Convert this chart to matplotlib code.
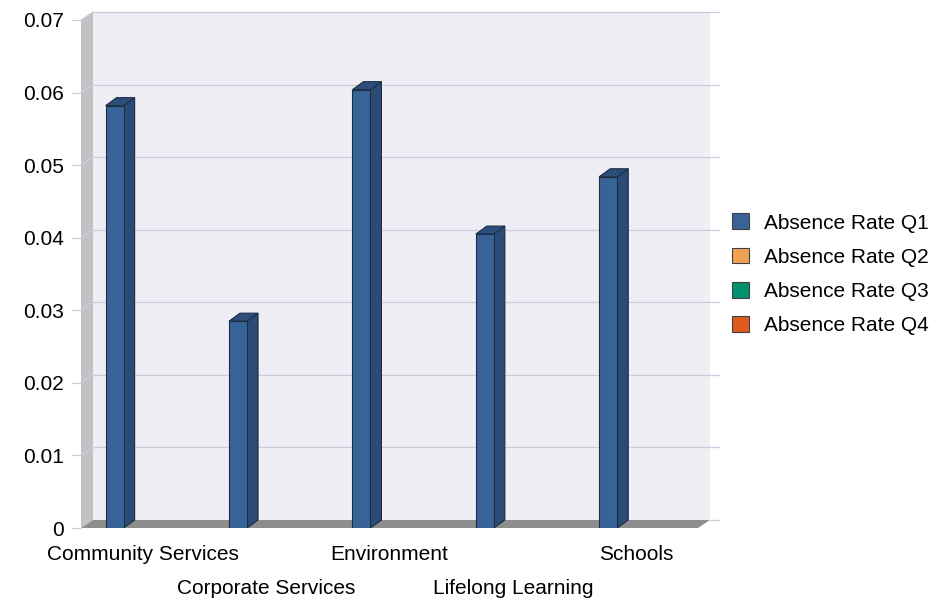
import numpy as np
import matplotlib
matplotlib.use('Agg')
import matplotlib.pyplot as plt
from matplotlib.patches import Polygon, Patch

plt.rcParams['font.family'] = ['Liberation Sans', 'DejaVu Sans']

categories = ['Community Services', 'Corporate Services', 'Environment',
              'Lifelong Learning', 'Schools']
series_names = ['Absence Rate Q1', 'Absence Rate Q2', 'Absence Rate Q3', 'Absence Rate Q4']
q1 = [0.0582, 0.0285, 0.0604, 0.0405, 0.0484]
q2 = [0, 0, 0, 0, 0]
q3 = [0, 0, 0, 0, 0]
q4 = [0, 0, 0, 0, 0]
yticks = [0, 0.01, 0.02, 0.03, 0.04, 0.05, 0.06, 0.07]

front_colors = ['#386399', '#f0a252', '#009270', '#e05a1e']
side_colors = ['#2b4b76', '#c07d3a', '#006e55', '#a84416']
top_colors = ['#2d4d7a', '#d18c44', '#007b5f', '#b94a18']
edge_col = '#1c2c44'
grid_col = '#cbcbdd'

W, H = 950, 602
fig = plt.figure(figsize=(W / 100, H / 100), dpi=100)
# front plane of the plot in pixels
x0, x1 = 81, 698
y0, y1 = 528, 20
ax = fig.add_axes([x0 / W, 1 - y0 / H, (x1 - x0) / W, (y0 - y1) / H])
ax.set_xlim(-0.5, 4.5)
ax.set_ylim(0, 0.07)
for s in ax.spines.values():
    s.set_visible(False)
ax.patch.set_visible(False)

px_x = (x1 - x0) / 5.0          # pixels per category
px_y = (y0 - y1) / 0.07         # pixels per unit value
DX, DY = 12 / px_x, 8 / px_y     # wall depth
BDX, BDY = 11 / px_x, 8 / px_y   # bar depth

# back wall, side wall, floor
ax.add_patch(Polygon([(-0.5 + DX, DY), (4.5 + DX, DY), (4.5 + DX, 0.07 + DY),
                      (-0.5 + DX, 0.07 + DY)], closed=True, fc='#efeef5', ec='none',
                     zorder=0, clip_on=False))
ax.add_patch(Polygon([(-0.5, 0), (-0.5 + DX, DY), (-0.5 + DX, 0.07 + DY), (-0.5, 0.07)],
                     closed=True, fc='#c2c2c4', ec='none', zorder=0, clip_on=False))
for v in yticks[1:]:
    ax.plot([-0.5 + DX, 4.5 + DX + 9 / px_x], [v + DY, v + DY], color=grid_col, lw=0.9,
            zorder=1, clip_on=False)
    ax.plot([-0.5, -0.5 + DX], [v, v + DY], color=grid_col, lw=0.9, zorder=1, clip_on=False)
ax.plot([4.5 + DX, 4.5 + DX + 9 / px_x], [DY, DY], color=grid_col, lw=0.9, zorder=1,
        clip_on=False)
ax.add_patch(Polygon([(-0.5, 0), (4.5, 0), (4.5 + DX, DY), (-0.5 + DX, DY)], closed=True,
                     fc='#8d8d8d', ec='none', zorder=2, clip_on=False))

# bars
x = np.arange(len(categories))
bw = 18 / px_x
step = 0.157
all_series = [q1, q2, q3, q4]
for k, vals in enumerate(all_series):
    xs = x + (k - 1.5) * step - bw / 2 + 1 / px_x
    for xl, v in zip(xs, vals):
        if v <= 0:
            continue
        ax.bar(xl, v, bw, align='edge', color=front_colors[k], edgecolor=edge_col,
               linewidth=0.8, zorder=5)
        ax.add_patch(Polygon([(xl + bw, 0), (xl + bw + BDX, BDY), (xl + bw + BDX, v + BDY),
                              (xl + bw, v)], closed=True, fc=side_colors[k], ec=edge_col,
                             lw=0.8, zorder=4))
        ax.add_patch(Polygon([(xl, v), (xl + bw, v), (xl + bw + BDX, v + BDY),
                              (xl + BDX, v + BDY)], closed=True, fc=top_colors[k],
                             ec=edge_col, lw=0.8, zorder=4))

ax.set_yticks(yticks)
ax.set_yticklabels(['0' if v == 0 else '%.2f' % v for v in yticks])
ax.tick_params(axis='y', length=6.5, width=0.9, color=grid_col, pad=5.8, labelsize=15)
ax.set_xticks(x)
ax.set_xticklabels(categories)
ax.tick_params(axis='x', length=0, labelsize=15, pad=12)
for i, t in enumerate(ax.xaxis.get_major_ticks()):
    if i % 2 == 1:
        t.set_pad(37)

handles = [Patch(facecolor=c, edgecolor='#404040', linewidth=0.8) for c in front_colors]
fig.legend(handles, series_names, loc='upper left', bbox_to_anchor=(724 / W, 1 - 205 / H),
           frameon=False, fontsize=15, handlelength=0.8, handleheight=0.8,
           handletextpad=0.72, labelspacing=0.72, borderaxespad=0)

fig.savefig('out.png', dpi=100)
